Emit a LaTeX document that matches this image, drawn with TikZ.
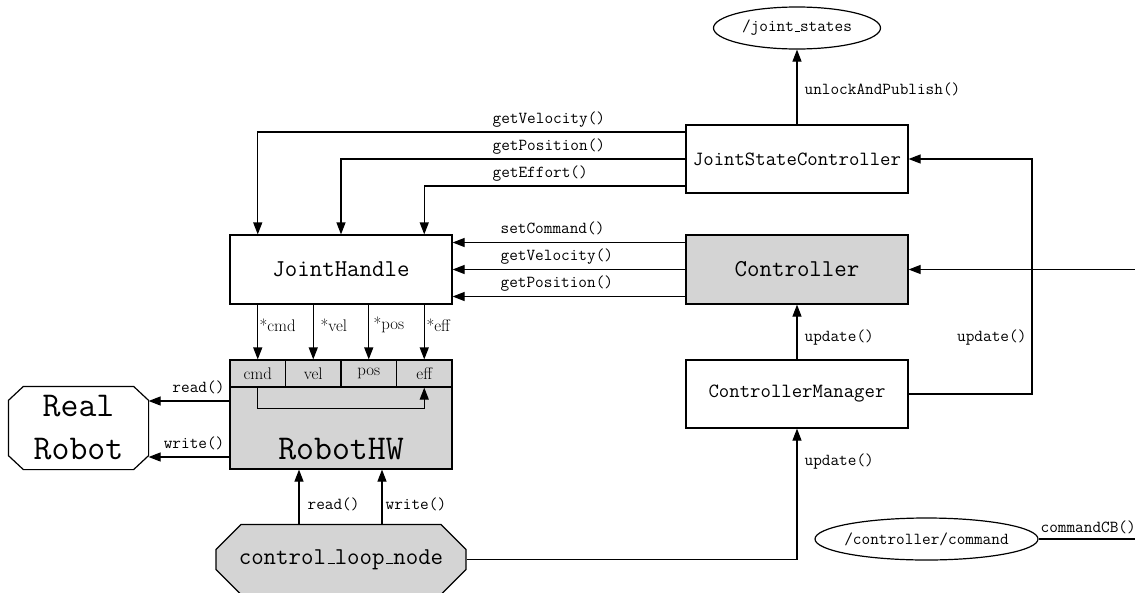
\documentclass[tikz,border=0pt]{standalone}
\usetikzlibrary{arrows.meta,shapes.geometric,shapes.misc}
\definecolor{hwgray}{gray}{0.83}
% old-style typewriter underscore: a short rule on the baseline
\newcommand\lowbar{\leavevmode\kern.06em\vbox{\hrule height .8pt width .3em}}
\newcommand\fsSmall{\fontsize{16.8}{20}\selectfont}
\newcommand\fsMid{\fontsize{20.2}{24}\selectfont}
\newcommand\fsBig{\fontsize{24.2}{29}\selectfont}
\newcommand\fsHuge{\fontsize{34.8}{43}\selectfont}
\begin{document}
\begin{tikzpicture}[x=1pt,y=-1pt,line width=1.2pt,
  arr/.style={-{Triangle[length=12pt,width=9pt]}},
  box/.style={draw,rectangle,minimum width=222pt,minimum height=68pt,inner sep=0pt},
  cell/.style={draw,fill=hwgray,minimum width=55.5pt,minimum height=27pt,inner sep=0pt,font=\rmfamily\fsSmall},
  octo/.style={draw,chamfered rectangle,chamfered rectangle sep=15pt,inner sep=0pt},
  topic/.style={draw,ellipse,minimum height=42pt,inner sep=0pt,font=\ttfamily\fsSmall},
  lbl/.style={font=\ttfamily\fsSmall,inner sep=0pt},
  rlbl/.style={font=\rmfamily\fsSmall,inner sep=0pt}]
\fill[white] (0,0) rectangle (1135,592);
\useasboundingbox (0,0) rectangle (1135,592);

% topics
\node[topic,minimum width=167pt] (js) at (797,28) {\makebox[0pt]{/joint\lowbar states}};
\node[topic,minimum width=223pt] (cc) at (926.5,539) {\makebox[0pt]{/controller/command}};

% controllers
\node[box,font=\ttfamily\fsMid] (jsc) at (797,159) {JointStateController};
\node[box,fill=hwgray,minimum height=69pt,font=\ttfamily\fsBig] (ctrl) at (797,269.5) {Controller};
\node[box,font=\ttfamily\fsMid] (cm) at (797,394) {ControllerManager};

% joint handle and hardware interface
\node[box,minimum height=69pt,font=\ttfamily\fsBig] (jh) at (341,269.5) {JointHandle};
\node[box,fill=hwgray,minimum height=109pt] (hw) at (341,414.5) {};
\node[font=\ttfamily\fsHuge,anchor=base,inner sep=0pt] (hwlbl) at (341,459) {RobotHW};
\node[cell] (cmd) at (257.75,373.5) {cmd};
\node[cell] (vel) at (313.25,373.5) {vel};
\node[cell] (pos) at (368.75,373.5) {pos};
\node[cell] (eff) at (424.25,373.5) {eff};

% the robot: an octagonal outline round a two-line label
\node[minimum width=139pt,minimum height=82pt,inner sep=0pt,align=center,font=\ttfamily\fsHuge] (rr) at (78.5,428) {Real\\Robot};
\draw ([xshift=15pt]rr.north west) -- ([xshift=-15pt]rr.north east)
  -- ([yshift=-14pt]rr.north east) -- ([yshift=14pt]rr.south east)
  -- ([xshift=-15pt]rr.south east) -- ([xshift=15pt]rr.south west)
  -- ([yshift=14pt]rr.south west) -- ([yshift=-14pt]rr.north west) -- cycle;

% loop node
\node[octo,fill=hwgray,minimum width=250pt,minimum height=70pt,font=\ttfamily\fsBig] (cln) at (341,559.5) {control\lowbar loop\lowbar node};

% publishing
\draw[arr] (jsc.north) -- (js.south);
\node[lbl,anchor=base west] (l-pub) at (804,94) {unlockAndPublish()};

% joint state controller reads the handle
\draw[arr] ([yshift=27pt]jsc.west) -| (jh.north -| cmd.north);
\draw[arr] (jsc.west) -| (jh.north);
\draw[arr] ([yshift=-27pt]jsc.west) -| (jh.north -| eff.north);
\node[lbl,anchor=base west] (l-gv1) at (492,123) {getVelocity()};
\node[lbl,anchor=base west] (l-gp1) at (492,150) {getPosition()};
\node[lbl,anchor=base west] (l-ge1) at (492,177) {getEffort()};

% controller uses the handle
\draw[arr] ([yshift=27pt]ctrl.west) -- ([yshift=27pt]jh.east);
\draw[arr] (ctrl.west) -- (jh.east);
\draw[arr] ([yshift=-27pt]ctrl.west) -- ([yshift=-27pt]jh.east);
\node[lbl,anchor=base west] (l-sc) at (500,233.5) {setCommand()};
\node[lbl,anchor=base west] (l-gv2) at (500,260.5) {getVelocity()};
\node[lbl,anchor=base west] (l-gp2) at (500,287.5) {getPosition()};

% handle pointers into the hardware data
\draw[arr] (jh.south -| cmd.north) -- (cmd.north);
\draw[arr] (jh.south -| vel.north) -- (vel.north);
\draw[arr] (jh.south -| pos.north) -- (pos.north);
\draw[arr] (jh.south -| eff.north) -- (eff.north);
\node[rlbl,anchor=base west] (l-cmd) at (259,331) {*cmd};
\node[rlbl,anchor=base west] (l-vel) at (320,331) {*vel};
\node[rlbl,anchor=base west] (l-pos) at (373,329) {*pos};
\node[rlbl,anchor=base west] (l-eff) at (426,331) {*eff};
\draw[arr] (cmd.south) -- ++(0,21) -| (eff.south);

% hardware talks to the robot
\draw[arr] ([yshift=13.5pt]hw.west) coordinate (r1) -- (r1 -| rr.east);
\draw[arr] ([yshift=-42.5pt]hw.west) coordinate (w1) -- (w1 -| rr.east);
\node[lbl,anchor=base east] (l-rd1) at (225,392) {read()};
\node[lbl,anchor=base east] (l-wr1) at (225,448) {write()};

% control loop
\draw[arr] ([xshift=-42pt]cln.north) -- ([xshift=-42pt]hw.south);
\draw[arr] ([xshift=41pt]cln.north) -- ([xshift=41pt]hw.south);
\node[lbl,anchor=base west] (l-rd2) at (307,509) {read()};
\node[lbl,anchor=base west] (l-wr2) at (385,509) {write()};
\draw[arr] (cln.east) -| (cm.south);
\node[lbl,anchor=base west] (l-up1) at (804,465) {update()};

% controller manager updates
\draw[arr] (cm.north) -- (ctrl.south);
\node[lbl,anchor=base west] (l-up2) at (804,341) {update()};
\coordinate (loop) at (1032,394);
\draw[arr] (cm.east) -- (loop) |- (jsc.east);
\node[lbl,anchor=base east] (l-up3) at (1027,341) {update()};

% incoming command
\coordinate (ext) at (1140,269.5);
\draw[arr] (ext) -- (ctrl.east);
\coordinate (cbout) at (1140,539);
\draw (cc.east) -- (cbout);
\node[lbl,anchor=base west] (l-cb) at (1040,532) {commandCB()};
\end{tikzpicture}
\end{document}
